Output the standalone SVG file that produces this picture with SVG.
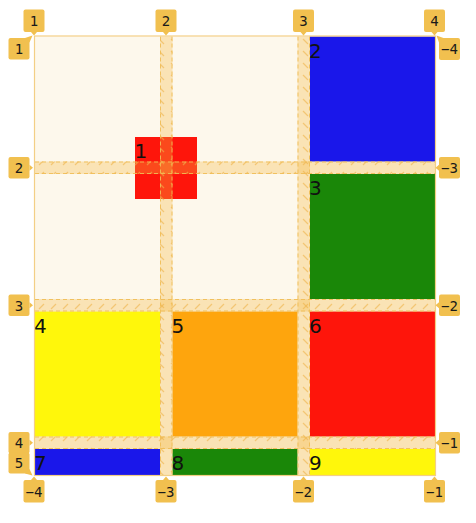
<svg xmlns="http://www.w3.org/2000/svg" width="476" height="523" viewBox="0 0 476 523">
<style>
.lbl{font-family:"DejaVu Sans",sans-serif;font-size:20px;fill:#111}
.bt{font-family:"DejaVu Sans Mono",monospace;font-size:14px;fill:#1a1a1a;text-anchor:middle}
.badge{fill:#f1c04f}
.gap{fill:#f5b942;fill-opacity:0.32}
.edge{stroke:#f0bd55;stroke-width:1;stroke-dasharray:4 3;fill:none;stroke-opacity:0.9}
</style>
<defs>
<pattern id="hr" width="12" height="12" patternUnits="userSpaceOnUse">
<path d="M3,9 L8,4" stroke="#eeb34a" stroke-width="1.2" stroke-opacity="0.6"/>
</pattern>
<pattern id="hc" width="12" height="12" patternUnits="userSpaceOnUse">
<path d="M3,3 L8,8" stroke="#eeb34a" stroke-width="1.2" stroke-opacity="0.6"/>
</pattern>
</defs>
<rect width="476" height="523" fill="#ffffff"/>
<g id="container">
<rect x="35" y="36.5" width="400" height="438.5" fill="#fdf8ec"/>
</g>
<g id="item-2"><rect x="310" y="36.5" width="125" height="125" fill="#1a17ea"/><text class="lbl" x="309" y="57.8">2</text></g>
<g id="item-3"><rect x="310" y="174" width="125" height="125" fill="#1a8708"/><text class="lbl" x="309" y="195.3">3</text></g>
<g id="item-4"><rect x="35" y="311.5" width="125" height="125" fill="#fff70b"/><text class="lbl" x="34" y="332.8">4</text></g>
<g id="item-5"><rect x="172.5" y="311.5" width="125" height="125" fill="#fea50d"/><text class="lbl" x="171.5" y="332.8">5</text></g>
<g id="item-6"><rect x="310" y="311.5" width="125" height="125" fill="#fe150b"/><text class="lbl" x="309" y="332.8">6</text></g>
<g id="item-7"><rect x="35" y="449" width="125" height="26" fill="#1a17ea"/><text class="lbl" x="34" y="470.3">7</text></g>
<g id="item-8"><rect x="172.5" y="449" width="125" height="26" fill="#1a8708"/><text class="lbl" x="171.5" y="470.3">8</text></g>
<g id="item-9"><rect x="310" y="449" width="125" height="26" fill="#fff70b"/><text class="lbl" x="309" y="470.3">9</text></g>
<g id="item-1"><rect x="135" y="137" width="62" height="62" fill="#fe150b"/><text class="lbl" x="134.5" y="157.6">1</text></g>
<g id="grid-overlay">
<rect class="gap" x="160" y="36.5" width="12.5" height="438.5"/>
<rect class="gap" x="297.5" y="36.5" width="12.5" height="438.5"/>
<rect class="gap" x="35" y="161.5" width="400" height="12.5"/>
<rect class="gap" x="35" y="299" width="400" height="12.5"/>
<rect class="gap" x="35" y="436.5" width="400" height="12.5"/>
<rect fill="url(#hc)" x="160" y="36.5" width="12.5" height="438.5"/>
<rect fill="url(#hc)" x="297.5" y="36.5" width="12.5" height="438.5"/>
<rect fill="url(#hr)" x="35" y="161.5" width="400" height="12.5"/>
<rect fill="url(#hr)" x="35" y="299" width="400" height="12.5"/>
<rect fill="url(#hr)" x="35" y="436.5" width="400" height="12.5"/>
<path class="edge" d="M160.5,36.5V475 M172,36.5V475 M298,36.5V475 M309.5,36.5V475 M35,162H435 M35,173.5H435 M35,299.5H435 M35,311H435 M35,437H435 M35,448.5H435"/>
<rect x="34.5" y="36" width="401" height="439.5" fill="none" stroke="#f3cf85" stroke-width="1.2"/>
</g>
<g id="badges-top">
<g id="col-top-1"><rect class="badge" x="23.5" y="9.5" width="21" height="22.5" rx="2"/><path class="badge" d="M31,32 L37,32 L34,35.5Z"/><text class="bt" x="34" y="26">1</text></g>
<g id="col-top-2"><rect class="badge" x="155.5" y="9.5" width="21" height="22.5" rx="2"/><path class="badge" d="M163,32 L169,32 L166,35.5Z"/><text class="bt" x="166" y="26">2</text></g>
<g id="col-top-3"><rect class="badge" x="293" y="9.5" width="21" height="22.5" rx="2"/><path class="badge" d="M300.5,32 L306.5,32 L303.5,35.5Z"/><text class="bt" x="303.5" y="26">3</text></g>
<g id="col-top-4"><rect class="badge" x="424" y="9.5" width="21" height="22.5" rx="2"/><path class="badge" d="M431.5,32 L437.5,32 L434.5,35.5Z"/><text class="bt" x="434.5" y="26">4</text></g>
</g>
<g id="badges-bottom">
<g id="col-bot-1"><rect class="badge" x="23.5" y="480" width="21" height="22.5" rx="2"/><path class="badge" d="M31,480 L37,480 L34,476.5Z"/><text class="bt" x="34" y="496.5">−4</text></g>
<g id="col-bot-2"><rect class="badge" x="155.5" y="480" width="21" height="22.5" rx="2"/><path class="badge" d="M163,480 L169,480 L166,476.5Z"/><text class="bt" x="166" y="496.5">−3</text></g>
<g id="col-bot-3"><rect class="badge" x="293" y="480" width="21" height="22.5" rx="2"/><path class="badge" d="M300.5,480 L306.5,480 L303.5,476.5Z"/><text class="bt" x="303.5" y="496.5">−2</text></g>
<g id="col-bot-4"><rect class="badge" x="424" y="480" width="21" height="22.5" rx="2"/><path class="badge" d="M431.5,480 L437.5,480 L434.5,476.5Z"/><text class="bt" x="434.5" y="496.5">−1</text></g>
</g>
<g id="badges-left">
<g id="row-left-1"><rect class="badge" x="8.5" y="38" width="21" height="21.5" rx="2"/><path class="badge" d="M25,38 L29.5,42.5 L32.5,35.5Z"/><text class="bt" x="19" y="54">1</text></g>
<g id="row-left-2"><rect class="badge" x="8.5" y="157" width="21" height="21.5" rx="2"/><path class="badge" d="M29.5,164.75 L29.5,170.75 L33,167.75Z"/><text class="bt" x="19" y="173">2</text></g>
<g id="row-left-3"><rect class="badge" x="8.5" y="294.5" width="21" height="21.5" rx="2"/><path class="badge" d="M29.5,302.25 L29.5,308.25 L33,305.25Z"/><text class="bt" x="19" y="310.5">3</text></g>
<g id="row-left-4"><rect class="badge" x="8.5" y="432" width="21" height="21.5" rx="2"/><path class="badge" d="M29.5,439.75 L29.5,445.75 L33,442.75Z"/><text class="bt" x="19" y="448">4</text></g>
<g id="row-left-5"><rect class="badge" x="8.5" y="452.5" width="21" height="21" rx="2"/><path class="badge" d="M25,473.5 L29.5,469 L32.5,475.5Z"/><text class="bt" x="19" y="468">5</text></g>
</g>
<g id="badges-right">
<g id="row-right-1"><rect class="badge" x="439" y="38" width="21" height="22" rx="2"/><path class="badge" d="M443.5,38 L439,42.5 L436.5,35.5Z"/><text class="bt" x="449.5" y="54">−4</text></g>
<g id="row-right-2"><rect class="badge" x="439" y="157" width="21" height="21.5" rx="2"/><path class="badge" d="M439,164.75 L439,170.75 L435.5,167.75Z"/><text class="bt" x="449.5" y="173">−3</text></g>
<g id="row-right-3"><rect class="badge" x="439" y="294.5" width="21" height="21.5" rx="2"/><path class="badge" d="M439,302.25 L439,308.25 L435.5,305.25Z"/><text class="bt" x="449.5" y="310.5">−2</text></g>
<g id="row-right-4"><rect class="badge" x="439" y="432" width="21" height="21.5" rx="2"/><path class="badge" d="M439,439.75 L439,445.75 L435.5,442.75Z"/><text class="bt" x="449.5" y="448">−1</text></g>
</g>
</svg>
